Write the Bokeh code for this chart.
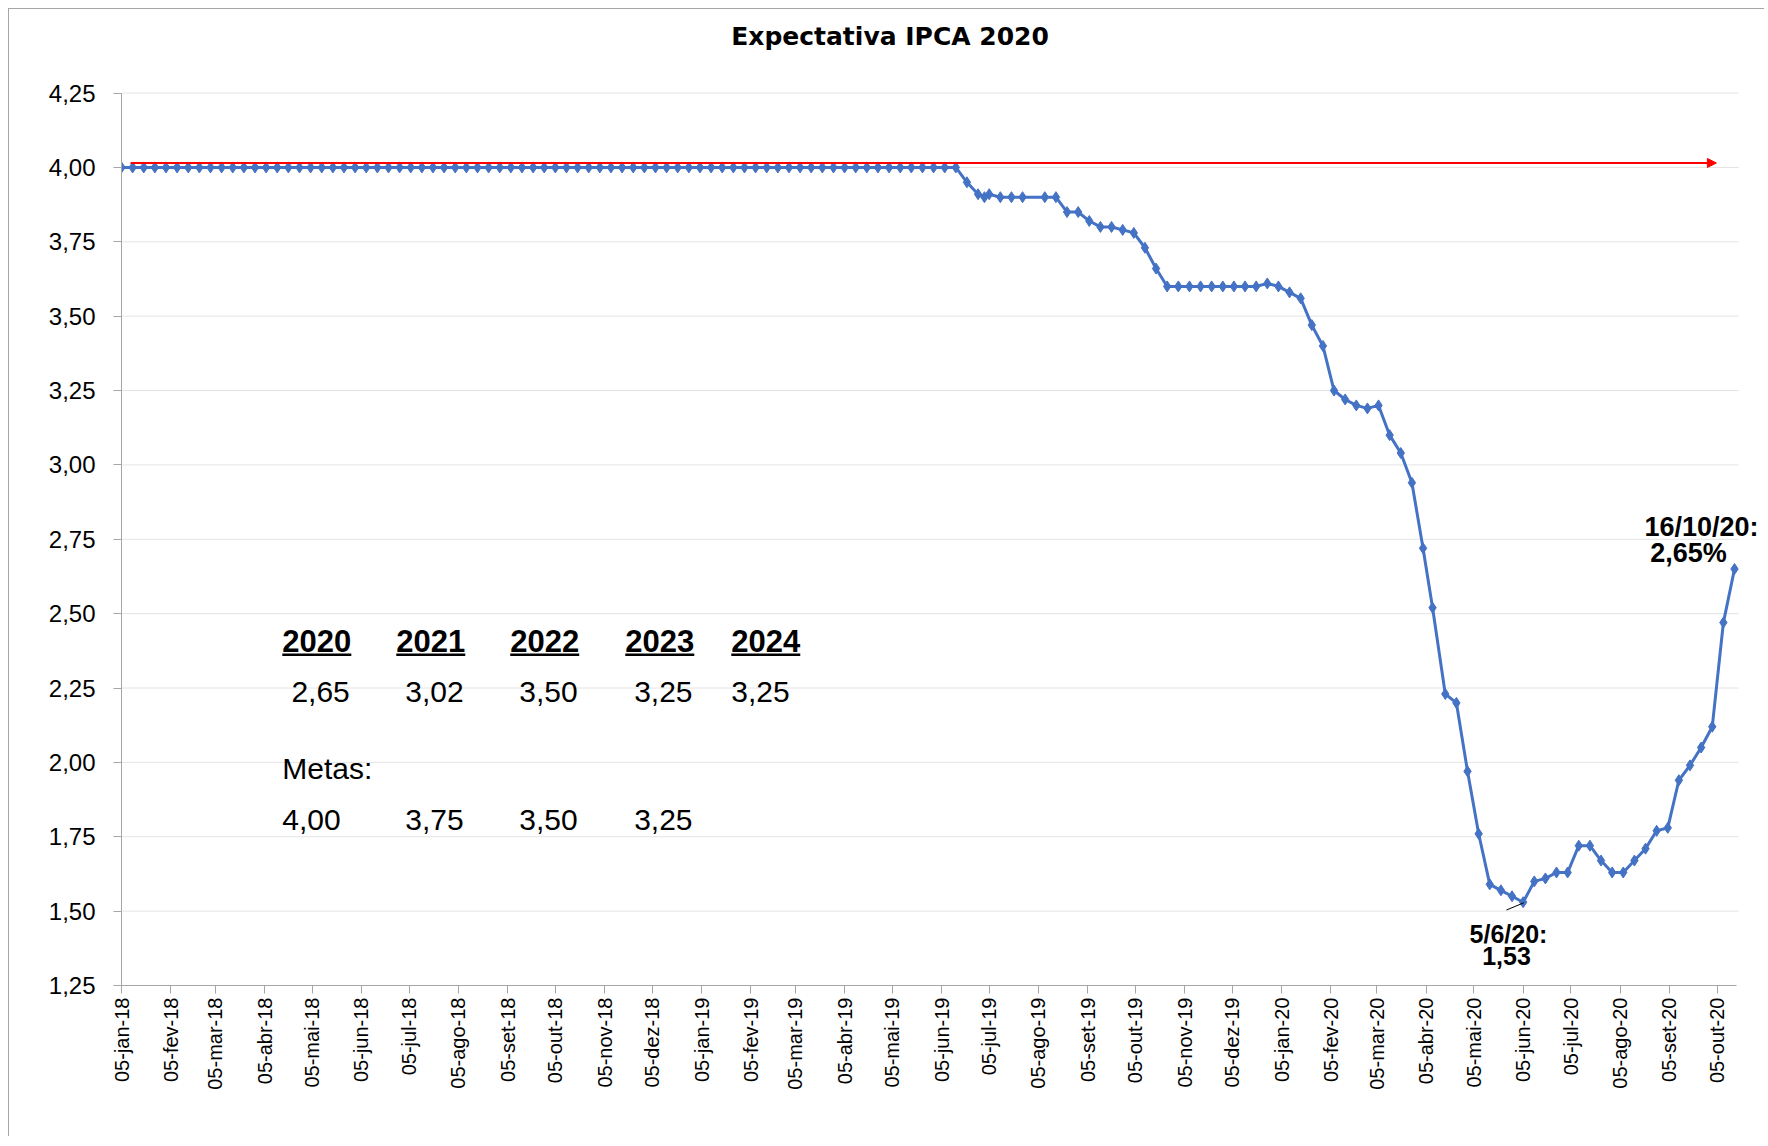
import math
import pandas as pd
from bokeh.plotting import figure
from bokeh.models import (Range1d, FixedTicker, CustomJSTickFormatter, Label, Arrow,
                          NormalHead, ColumnDataSource)
from bokeh.core.properties import value
from bokeh.embed import file_html
from bokeh.resources import INLINE

# ---------------- data ----------------
dates = [
    "2018-01-05", "2018-01-12", "2018-01-19", "2018-01-26", "2018-02-02", "2018-02-09",
    "2018-02-16", "2018-02-23", "2018-03-02", "2018-03-09", "2018-03-16", "2018-03-23",
    "2018-03-30", "2018-04-06", "2018-04-13", "2018-04-20", "2018-04-27", "2018-05-04",
    "2018-05-11", "2018-05-18", "2018-05-25", "2018-06-01", "2018-06-08", "2018-06-15",
    "2018-06-22", "2018-06-29", "2018-07-06", "2018-07-13", "2018-07-20", "2018-07-27",
    "2018-08-03", "2018-08-10", "2018-08-17", "2018-08-24", "2018-08-31", "2018-09-07",
    "2018-09-14", "2018-09-21", "2018-09-28", "2018-10-05", "2018-10-12", "2018-10-19",
    "2018-10-26", "2018-11-02", "2018-11-09", "2018-11-16", "2018-11-23", "2018-11-30",
    "2018-12-07", "2018-12-14", "2018-12-21", "2018-12-28", "2019-01-04", "2019-01-11",
    "2019-01-18", "2019-01-25", "2019-02-01", "2019-02-08", "2019-02-15", "2019-02-22",
    "2019-03-01", "2019-03-08", "2019-03-15", "2019-03-22", "2019-03-29", "2019-04-05",
    "2019-04-12", "2019-04-19", "2019-04-26", "2019-05-03", "2019-05-10", "2019-05-17",
    "2019-05-24", "2019-05-31", "2019-06-07", "2019-06-14",
    "2019-06-21", "2019-06-28", "2019-07-02", "2019-07-05", "2019-07-12", "2019-07-19",
    "2019-07-26", "2019-08-09", "2019-08-16", "2019-08-23", "2019-08-30", "2019-09-06",
    "2019-09-13", "2019-09-20", "2019-09-27", "2019-10-04", "2019-10-11", "2019-10-18",
    "2019-10-25", "2019-11-01", "2019-11-08", "2019-11-15", "2019-11-22", "2019-11-29",
    "2019-12-06", "2019-12-13", "2019-12-20", "2019-12-27", "2020-01-03", "2020-01-10",
    "2020-01-17", "2020-01-24", "2020-01-31", "2020-02-07", "2020-02-14", "2020-02-21",
    "2020-02-28", "2020-03-06", "2020-03-13", "2020-03-20", "2020-03-27", "2020-04-03",
    "2020-04-09", "2020-04-17", "2020-04-24", "2020-05-01", "2020-05-08", "2020-05-15",
    "2020-05-22", "2020-05-29", "2020-06-05", "2020-06-12", "2020-06-19", "2020-06-26",
    "2020-07-03", "2020-07-10", "2020-07-17", "2020-07-24", "2020-07-31", "2020-08-07",
    "2020-08-14", "2020-08-21", "2020-08-28", "2020-09-04", "2020-09-11", "2020-09-18",
    "2020-09-25", "2020-10-02", "2020-10-09", "2020-10-16",
]

ipca_2020 = [
    4.00, 4.00, 4.00, 4.00, 4.00, 4.00, 4.00, 4.00, 4.00, 4.00, 4.00, 4.00,
    4.00, 4.00, 4.00, 4.00, 4.00, 4.00, 4.00, 4.00, 4.00, 4.00, 4.00, 4.00,
    4.00, 4.00, 4.00, 4.00, 4.00, 4.00, 4.00, 4.00, 4.00, 4.00, 4.00, 4.00,
    4.00, 4.00, 4.00, 4.00, 4.00, 4.00, 4.00, 4.00, 4.00, 4.00, 4.00, 4.00,
    4.00, 4.00, 4.00, 4.00, 4.00, 4.00, 4.00, 4.00, 4.00, 4.00, 4.00, 4.00,
    4.00, 4.00, 4.00, 4.00, 4.00, 4.00, 4.00, 4.00, 4.00, 4.00, 4.00, 4.00,
    4.00, 4.00, 4.00, 4.00,
    3.95, 3.91, 3.90, 3.91, 3.90, 3.90,
    3.90, 3.90, 3.90, 3.85, 3.85, 3.82,
    3.80, 3.80, 3.79, 3.78, 3.73, 3.66,
    3.60, 3.60, 3.60, 3.60, 3.60, 3.60,
    3.60, 3.60, 3.60, 3.61, 3.60, 3.58,
    3.56, 3.47, 3.40, 3.25, 3.22, 3.20,
    3.19, 3.20, 3.10, 3.04, 2.94, 2.72,
    2.52, 2.23, 2.20, 1.97, 1.76, 1.59,
    1.57, 1.55, 1.53, 1.60, 1.61, 1.63,
    1.63, 1.72, 1.72, 1.67, 1.63, 1.63,
    1.67, 1.71, 1.77, 1.78, 1.94, 1.99,
    2.05, 2.12, 2.47, 2.65,
]

tick_labels = [
    "05-jan-18", "05-fev-18", "05-mar-18", "05-abr-18", "05-mai-18", "05-jun-18",
    "05-jul-18", "05-ago-18", "05-set-18", "05-out-18", "05-nov-18", "05-dez-18",
    "05-jan-19", "05-fev-19", "05-mar-19", "05-abr-19", "05-mai-19", "05-jun-19",
    "05-jul-19", "05-ago-19", "05-set-19", "05-out-19", "05-nov-19", "05-dez-19",
    "05-jan-20", "05-fev-20", "05-mar-20", "05-abr-20", "05-mai-20", "05-jun-20",
    "05-jul-20", "05-ago-20", "05-set-20", "05-out-20",
]

y_ticks = [1.25, 1.50, 1.75, 2.00, 2.25, 2.50, 2.75, 3.00, 3.25, 3.50, 3.75, 4.00, 4.25]

table_years = ["2020", "2021", "2022", "2023", "2024"]
table_forecasts = ["2,65", "3,02", "3,50", "3,25", "3,25"]
table_targets = ["4,00", "3,75", "3,50", "3,25"]

title_text = "Expectativa IPCA 2020"
last_label = "16/10/20:"
last_value_label = "2,65%"
min_label = "5/6/20:"
min_value_label = "1,53"

# ---------------- helpers ----------------
MONTHS = {"jan": 1, "fev": 2, "mar": 3, "abr": 4, "mai": 5, "jun": 6,
          "jul": 7, "ago": 8, "set": 9, "out": 10, "nov": 11, "dez": 12}
origin = pd.Timestamp(dates[0])


def to_day(s):
    return (pd.Timestamp(s) - origin).days


def tick_day(lbl):
    d, m, y = lbl.split("-")
    return (pd.Timestamp(year=2000 + int(y), month=MONTHS[m], day=int(d)) - origin).days


x_days = [to_day(d) for d in dates]
tick_pos = [tick_day(t) for t in tick_labels]

BLUE = "#4472C4"
AXIS_GREY = "#a6a6a6"
X_END = 1016.4      # last day covered by the plot area (axis end)

W, H = 1756, 1128
p = figure(width=W, height=H, output_backend="svg", toolbar_location=None, title=None,
           x_range=Range1d(0, 1034.5), y_range=Range1d(1.25, 4.5309),
           min_border_left=112, min_border_right=0, min_border_top=0,
           min_border_bottom=152)
p.styles = {"margin-left": "8px", "margin-top": "8px",
            "border-left": "1px solid #a6a6a6", "border-top": "1px solid #a6a6a6"}
p.outline_line_color = None
p.background_fill_color = "white"
p.border_fill_color = "white"

# grid (horizontal dotted lines, limited to the plot area)
p.xgrid.visible = False
p.ygrid.visible = False
grid_y = y_ticks[1:]
p.segment(x0=[0] * len(grid_y), y0=grid_y, x1=[X_END + 1] * len(grid_y), y1=grid_y,
          line_color="#c8c8c8", line_width=1, line_dash="1 1", level="underlay")

# x axis
xa = p.xaxis[0]
xa.bounds = (0, X_END)
xa.ticker = FixedTicker(ticks=tick_pos)
xa.major_label_overrides = {t: l for t, l in zip(tick_pos, tick_labels)}
xa.major_label_orientation = math.pi / 2
xa.major_label_text_font = "Liberation Sans"
xa.major_label_text_font_size = "20px"
xa.major_label_text_color = "black"
xa.major_label_standoff = 4
xa.major_tick_out = 8
xa.major_tick_in = 0
xa.minor_tick_line_color = None
xa.axis_line_color = AXIS_GREY
xa.major_tick_line_color = AXIS_GREY

# y axis
ya = p.yaxis[0]
ya.bounds = (1.25, 4.25)
ya.ticker = FixedTicker(ticks=y_ticks)
ya.formatter = CustomJSTickFormatter(code="return tick.toFixed(2).replace('.', ',');")
ya.major_label_text_font = "Liberation Sans"
ya.major_label_text_font_size = "24px"
ya.major_label_text_color = "black"
ya.major_label_standoff = 18
ya.major_tick_out = 8
ya.major_tick_in = 0
ya.minor_tick_line_color = None
ya.axis_line_color = AXIS_GREY
ya.major_tick_line_color = AXIS_GREY

# red target arrow (meta 4,00)
p.add_layout(Arrow(x_start=5.7, y_start=4.015, x_end=1003.6, y_end=4.015,
                   line_color="red", line_width=2,
                   end=NormalHead(size=9, fill_color="red", line_color="red")))

# series
src = ColumnDataSource(dict(x=x_days, y=ipca_2020))
p.line("x", "y", source=src, line_color=BLUE, line_width=3)
p.scatter("x", "y", source=src, marker="diamond", size=11,
          fill_color=BLUE, line_color=BLUE)

# title
p.add_layout(Label(x=483.6, y=4.4407, text=title_text, text_align="center",
                   text_baseline="middle", text_font="DejaVu Sans",
                   text_font_style="bold", text_font_size="25px", text_color="black"))

# table of expectations / targets
header_x = [101.2, 172.9, 244.6, 317.0, 383.7]
forecast_x = [106.9, 178.6, 250.3, 322.6, 383.7]
target_x = [101.2, 178.6, 250.3, 322.6]
header_y, forecast_y, metas_y, target_y = 2.408, 2.237, 1.979, 1.808
underline_y = 2.362
header_px_w = 69.0
px_per_day = 1.5892

p.text(x=header_x, y=[header_y] * len(table_years), text=table_years,
       text_font=value("Liberation Sans"), text_font_style="bold",
       text_font_size="31px", text_align="left", text_baseline="middle",
       text_color="black")
p.segment(x0=header_x, y0=[underline_y] * len(header_x),
          x1=[h + header_px_w / px_per_day for h in header_x],
          y1=[underline_y] * len(header_x), line_color="black", line_width=2.5)
p.text(x=forecast_x, y=[forecast_y] * len(table_forecasts), text=table_forecasts,
       text_font=value("Liberation Sans"), text_font_size="30px",
       text_align="left", text_baseline="middle", text_color="black")
p.text(x=[101.2], y=[metas_y], text=["Metas:"],
       text_font=value("Liberation Sans"), text_font_size="30px",
       text_align="left", text_baseline="middle", text_color="black")
p.text(x=target_x, y=[target_y] * len(table_targets), text=table_targets,
       text_font=value("Liberation Sans"), text_font_size="30px",
       text_align="left", text_baseline="middle", text_color="black")

# point annotations
for tx, ty, tt, fs in [(994.2, 2.792, last_label, "27px"), (986.0, 2.704, last_value_label, "27px"),
                       (872.8, 1.424, min_label, "25px"), (871.5, 1.348, min_value_label, "25px")]:
    p.add_layout(Label(x=tx, y=ty, text=tt, text_align="center", text_baseline="middle",
                       text_font="Liberation Sans", text_font_style="bold",
                       text_font_size=fs, text_color="black"))
p.segment(x0=[871.5], y0=[1.5037], x1=[882.4], y1=[1.528], line_color="black", line_width=1)

open("out.html", "w").write(file_html(p, INLINE))
